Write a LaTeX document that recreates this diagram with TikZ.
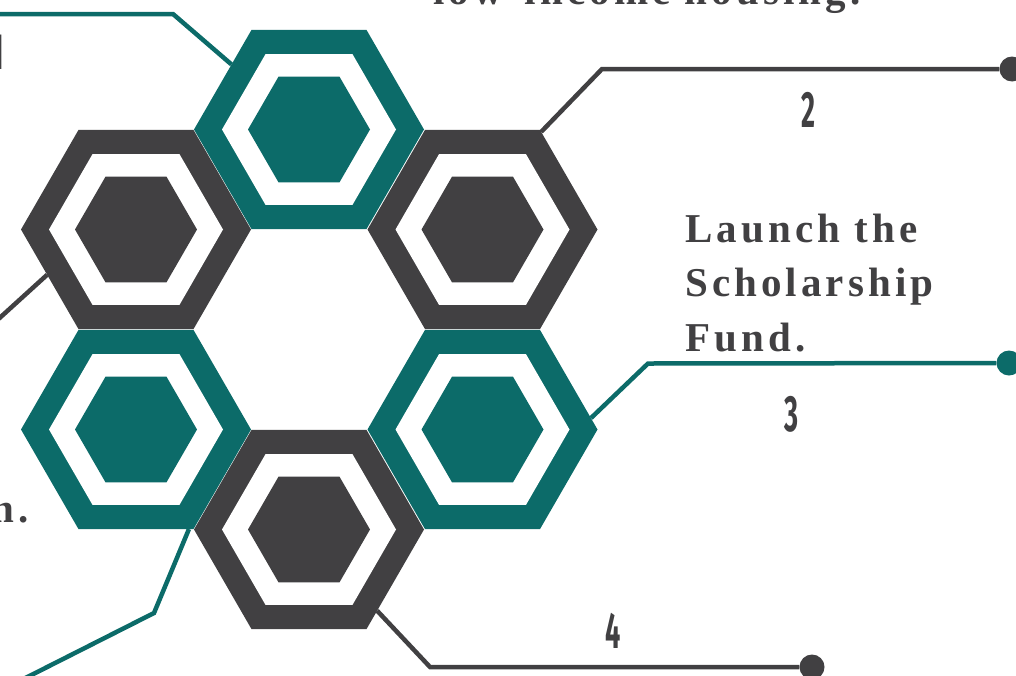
\documentclass[tikz,border=0pt]{standalone}
\usepackage{fontspec}
\usetikzlibrary{shapes.geometric}
\newfontfamily\labelfont[LetterSpace=10]{Liberation Serif}
\newfontfamily\numfont{Fira Sans}
\definecolor{hexteal}{RGB}{12,107,105}
\definecolor{hexgray}{RGB}{65,64,66}
\tikzset{
  hexo/.style={regular polygon, regular polygon sides=6, minimum size=230pt, inner sep=0pt, outer sep=0pt},
  hexw/.style={hexo, minimum size=174pt, fill=white},
  hexi/.style={hexo, minimum size=122pt},
  link/.style={line width=4.5pt},
  dot/.style={circle, minimum size=25pt, inner sep=0pt, fill=#1},
  labeltext/.style={font=\labelfont\bfseries\fontsize{41}{54.5}\selectfont, text=hexgray, inner sep=0pt},
  numtext/.style={font=\numfont\bfseries\fontsize{51}{51}\selectfont, text=hexgray, inner sep=0pt}
}
\begin{document}
\begin{tikzpicture}[x=1pt, y=-1pt]
  \useasboundingbox (0,0) rectangle (1016,675);
  \clip (0,0) rectangle (1016,675);
  % ring of hexagons
  \foreach \n/\x/\y/\c in {hT/309/129.5/hexteal, hUL/136/229.5/hexgray, hUR/482.5/229.5/hexgray,
      hLL/136/429.5/hexteal, hLR/482.5/429.5/hexteal, hB/309/529.5/hexgray}{
    \node[hexo, fill=\c] (\n) at (\x,\y) {};
    \node[hexw] (\n-w) at (\n) {};
    \node[hexi, fill=\c] (\n-i) at (\n) {};
  }
  % ends of the links
  \node[dot=hexgray] (d2) at (1012,69) {};
  \node[dot=hexteal] (d3) at (1009,363) {};
  \node[dot=hexgray] (d4) at (812,667) {};
  \coordinate (b1) at (173,14); \coordinate (e1) at (-20,14);
  \coordinate (b2) at (602,69);
  \coordinate (b3) at (648,363.5);
  \coordinate (b4) at (430,667);
  \coordinate (e5) at (-40,354);
  \coordinate (b6) at (154,613); \coordinate (e6) at (-20,701);
  \draw[link, hexteal] (hT.140) -- (b1) -- (e1);
  \draw[link, hexgray] (hUR.59) -- (b2) -- (d2);
  \draw[link, hexteal] (hLR.6) -- (b3) -- (d3);
  \draw[link, hexgray] (hB.-50) -- (b4) -- (d4);
  \draw[link, hexgray] (hUL.207) -- (e5);
  \draw[link, hexteal] (hLL.-62) -- (b6) -- (e6);
  % labels
  \node[labeltext, anchor=base west] (t1) at (433,4) {low-income housing.};
  \node[labeltext, anchor=base west, align=left] (t2) at (685,351) {Launch the\\Scholarship\\Fund.};
  \node[labeltext, anchor=base east] (t5) at (29,522) {n.};
  \node[numtext] (n1) at (-2,52) {\scalebox{0.53}[1]{1}};
  \node[numtext] (n2) at (808,110) {\scalebox{0.53}[1]{2}};
  \node[numtext] (n3) at (792,414) {\scalebox{0.53}[1]{3}};
  \node[numtext] (n4) at (613,631) {\scalebox{0.53}[1]{4}};
\end{tikzpicture}
\end{document}
